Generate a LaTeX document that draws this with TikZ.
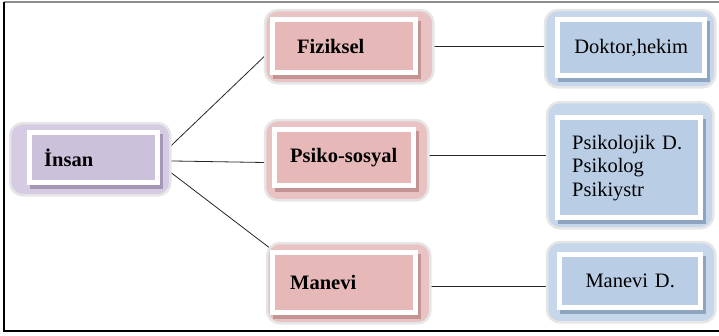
\documentclass[tikz,border=0pt]{standalone}
\usepackage{fontspec}
\setmainfont{Liberation Serif}
\usetikzlibrary{calc,backgrounds}
\definecolor{pinkin}{HTML}{E6B9B8}
\definecolor{pinkout}{HTML}{E9C3C3}
\definecolor{pinksh}{HTML}{C49494}
\definecolor{bluein}{HTML}{B9CDE5}
\definecolor{blueout}{HTML}{C6D6EB}
\definecolor{bluesh}{HTML}{8FA4BF}
\definecolor{purpin}{HTML}{CCC1DA}
\definecolor{purpout}{HTML}{D5CBE2}
\definecolor{purpsh}{HTML}{A497B6}
\definecolor{halo}{HTML}{E6E6E6}
\tikzset{
  inbox/.style={inner ysep=0pt, anchor=north west, align=left},
  boldtxt/.style={font=\fontsize{20.5}{24}\selectfont\bfseries},
  regtxt/.style={font=\fontsize{20.5}{23.5}\selectfont},
  outerbox/.style={rounded corners=13pt, draw=halo, line width=2.5pt},
  frameb/.style={fill=white},
  link/.style={draw=black!85, line width=0.8pt},
}
\newcommand{\boxbg}[7]{%
  % #1 node, #2 outer colour, #3 shadow colour, #4-#7 outer offsets l t r b
  \fill[outerbox, fill=#2] ($(#1.north west)+(-#4,-#5)$) rectangle ($(#1.south east)+(#6,#7)$);
  \fill[#3] ($(#1.north west)+(-2,-1)$) rectangle ($(#1.south east)+(8,9)$);
  \fill[frameb] ($(#1.north west)+(-5,-5)$) rectangle ($(#1.south east)+(5,5)$);
}
\begin{document}
\begin{tikzpicture}[x=1pt,y=-1pt]
\useasboundingbox (0,0) rectangle (719,335);
\draw[black!45, line width=1.2pt] (4,2) -- (719,2);
\draw[black, line width=1.6pt] (4,2) -- (4,331) -- (719,331);

% inner nodes
\node[inbox, boldtxt, fill=purpin, text width=99pt, inner xsep=12pt, minimum height=45pt] (insan) at (32,135) {İnsan};
\node[inbox, boldtxt, fill=pinkin, text width=94pt, inner xsep=22pt, minimum height=48pt] (fiz) at (275,22) {Fiziksel};
\node[inbox, boldtxt, fill=pinkin, text width=108pt, inner xsep=13pt, minimum height=51pt] (psy) at (277,132) {Psiko-sosyal};
\node[inbox, boldtxt, fill=pinkin, text width=108pt, inner xsep=15pt, minimum height=55pt] (man) at (275,255) {Manevi};
\node[inbox, regtxt, fill=bluein, text width=142pt, inner xsep=0pt, minimum height=51pt, align=center] (doc) at (560,22) {Doktor,hekim};
\node[inbox, regtxt, fill=bluein, text width=114pt, inner xsep=12pt, minimum height=95pt] (psk) at (560,120) {Psikolojik D.\\Psikolog\\Psikiystr};
\node[inbox, regtxt, fill=bluein, text width=136pt, inner xsep=0pt, minimum height=48pt, align=center] (mand) at (562,257) {Manevi D.};

\begin{scope}[on background layer]
  % connectors (drawn first, boxes cover their ends)
  \draw[link] ([yshift=-3pt]insan.east) -- (fiz.west);
  \draw[link] ([yshift=-3pt]insan.east) -- ([yshift=-5pt]psy.west);
  \draw[link] ([yshift=-3pt]insan.east) -- ([yshift=3pt]man.north west);
  \draw[link] (fiz.east) -- (fiz.east -| doc.west);
  \draw[link] ([yshift=2pt]psy.east) -- ([yshift=2pt]psy.east -| psk.west);
  \draw[link] ([yshift=-4pt]man.east) -- ([yshift=-4pt]man.east -| mand.west);
  % box backgrounds
  \boxbg{insan}{purpout}{purpsh}{22}{12}{15}{15}
  \boxbg{fiz}{pinkout}{pinksh}{10}{12}{20}{13}
  \boxbg{psy}{pinkout}{pinksh}{12}{12}{17}{17}
  \boxbg{man}{pinkout}{pinksh}{8}{12}{17}{13}
  \boxbg{doc}{blueout}{bluesh}{15}{12}{13}{14}
  \boxbg{psk}{blueout}{bluesh}{13}{18}{15}{13}
  \boxbg{mand}{blueout}{bluesh}{15}{15}{17}{17}
\end{scope}
\end{tikzpicture}
\end{document}
